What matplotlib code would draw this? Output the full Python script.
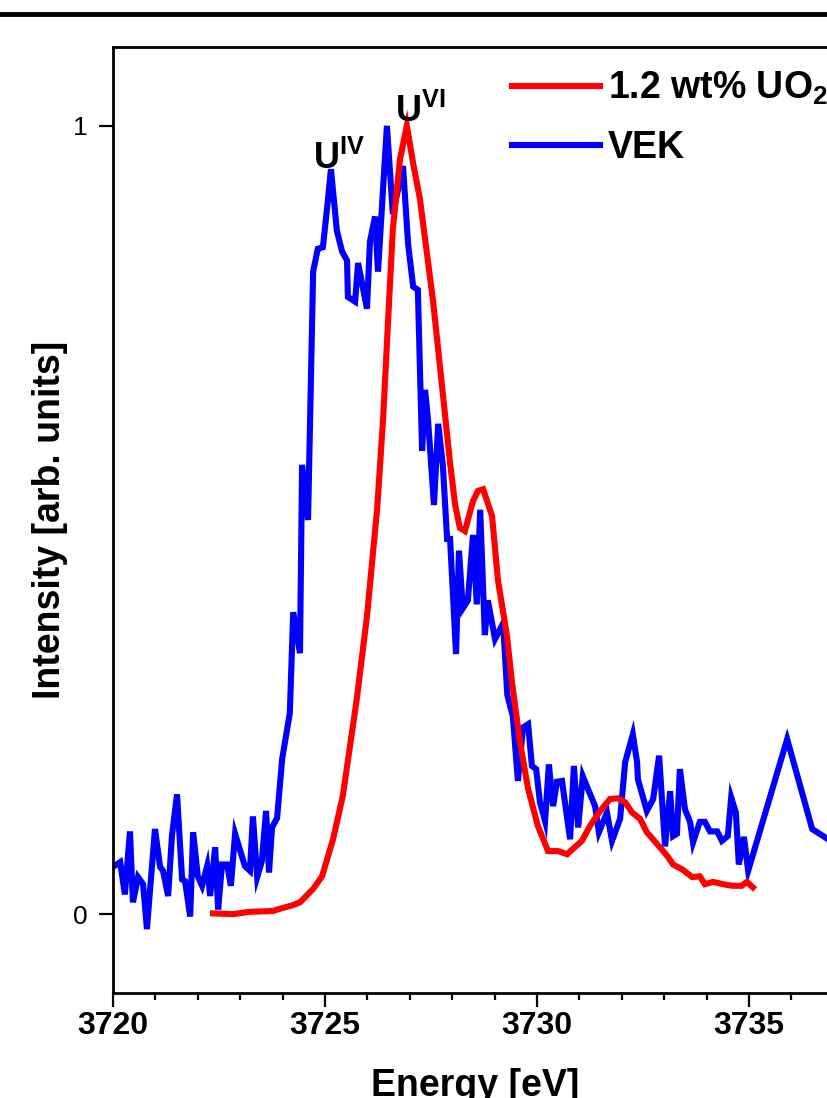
import matplotlib
matplotlib.use("Agg")
import matplotlib.pyplot as plt
from matplotlib import font_manager
from matplotlib.lines import Line2D

# ---------------- data ----------------
vek_energy = [3720.00, 3720.17, 3720.28, 3720.40, 3720.47, 3720.59, 3720.71, 3720.80,
              3720.99, 3721.11, 3721.18, 3721.30, 3721.39, 3721.51, 3721.63, 3721.70,
              3721.82, 3721.89, 3722.00, 3722.10, 3722.22, 3722.29, 3722.41, 3722.48,
              3722.57, 3722.69, 3722.78, 3722.88, 3723.11, 3723.23, 3723.30, 3723.40,
              3723.51, 3723.61, 3723.68, 3723.75, 3723.87, 3723.99, 3724.17, 3724.25,
              3724.41, 3724.46, 3724.60, 3724.72, 3724.83, 3724.95, 3725.05, 3725.14,
              3725.28, 3725.40, 3725.52, 3725.54, 3725.71, 3725.78, 3725.99, 3726.06,
              3726.18, 3726.25, 3726.46, 3726.60, 3726.84, 3726.96, 3727.08, 3727.19,
              3727.29, 3727.36, 3727.43, 3727.57, 3727.67, 3727.78, 3727.88, 3727.95,
              3728.09, 3728.16, 3728.25, 3728.37, 3728.49, 3728.58, 3728.66, 3728.77,
              3728.84, 3729.01, 3729.20, 3729.30, 3729.43, 3729.55, 3729.67, 3729.79,
              3729.88, 3729.98, 3730.07, 3730.19, 3730.28, 3730.38, 3730.47, 3730.59,
              3730.78, 3730.87, 3730.97, 3731.08, 3731.20, 3731.37, 3731.46, 3731.65,
              3731.77, 3731.96, 3732.08, 3732.26, 3732.36, 3732.38, 3732.59, 3732.74,
              3732.88, 3733.02, 3733.14, 3733.21, 3733.30, 3733.37, 3733.49, 3733.61,
              3733.68, 3733.84, 3733.96, 3734.08, 3734.25, 3734.36, 3734.50, 3734.58,
              3734.69, 3734.76, 3734.88, 3734.98, 3735.90, 3736.49, 3737.30]
vek_intensity = [0.060, 0.066, 0.025, 0.105, 0.015, 0.047, 0.038, -0.019,
                 0.108, 0.060, 0.055, 0.023, 0.099, 0.152, 0.044, 0.042,
                 -0.003, 0.104, 0.048, 0.036, 0.061, 0.023, 0.085, 0.006,
                 0.063, 0.063, 0.036, 0.102, 0.061, 0.055, 0.124, 0.047,
                 0.067, 0.131, 0.053, 0.110, 0.122, 0.197, 0.255, 0.383,
                 0.331, 0.570, 0.500, 0.815, 0.844, 0.846, 0.896, 0.945,
                 0.867, 0.841, 0.829, 0.783, 0.777, 0.826, 0.768, 0.853,
                 0.885, 0.815, 1.000, 0.888, 0.949, 0.850, 0.796, 0.792,
                 0.588, 0.665, 0.627, 0.519, 0.622, 0.569, 0.476, 0.476,
                 0.330, 0.461, 0.388, 0.398, 0.481, 0.393, 0.513, 0.354,
                 0.398, 0.349, 0.369, 0.278, 0.251, 0.169, 0.237, 0.241,
                 0.188, 0.184, 0.142, 0.118, 0.190, 0.137, 0.168, 0.169,
                 0.095, 0.188, 0.110, 0.175, 0.159, 0.137, 0.104, 0.129,
                 0.093, 0.121, 0.193, 0.228, 0.193, 0.171, 0.131, 0.146,
                 0.201, 0.086, 0.156, 0.099, 0.102, 0.184, 0.133, 0.117,
                 0.091, 0.117, 0.117, 0.105, 0.105, 0.093, 0.099, 0.148,
                 0.129, 0.063, 0.098, 0.055, 0.222, 0.108, 0.080]

uo2_energy = [3722.36, 3722.83, 3723.23, 3723.77, 3724.01, 3724.22, 3724.41, 3724.72,
              3724.93, 3725.19, 3725.42, 3725.75, 3725.99, 3726.23, 3726.37, 3726.49,
              3726.60, 3726.77, 3726.93, 3727.08, 3727.24, 3727.55, 3727.76, 3727.95,
              3728.07, 3728.18, 3728.30, 3728.49, 3728.61, 3728.73, 3728.94, 3729.08,
              3729.29, 3729.41, 3729.60, 3729.79, 3730.02, 3730.26, 3730.50, 3730.71,
              3730.83, 3731.06, 3731.25, 3731.49, 3731.72, 3731.91, 3732.08, 3732.24,
              3732.43, 3732.59, 3732.83, 3733.07, 3733.21, 3733.42, 3733.66, 3733.84,
              3733.96, 3734.15, 3734.39, 3734.60, 3734.83, 3734.95, 3735.09]
uo2_intensity = [0.001, 0.000, 0.003, 0.004, 0.008, 0.011, 0.015, 0.032,
                 0.048, 0.095, 0.150, 0.273, 0.378, 0.514, 0.628, 0.755,
                 0.869, 0.958, 1.000, 0.952, 0.907, 0.777, 0.670, 0.572,
                 0.519, 0.490, 0.486, 0.524, 0.537, 0.539, 0.505, 0.423,
                 0.354, 0.294, 0.218, 0.159, 0.112, 0.080, 0.080, 0.076,
                 0.082, 0.093, 0.112, 0.131, 0.146, 0.147, 0.142, 0.129,
                 0.121, 0.104, 0.089, 0.074, 0.063, 0.057, 0.047, 0.048,
                 0.038, 0.041, 0.038, 0.036, 0.036, 0.041, 0.034]

series_labels = ["1.2 wt% UO$_2$", "VEK"]
x_ticks = [3720, 3725, 3730, 3735]
y_ticks = [0, 1]
peak_labels = [("U", "IV", 3725.32, 0.935), ("U", "VI", 3727.26, 0.995)]

# ---------------- fonts ----------------
def has_font(name):
    try:
        font_manager.findfont(name, fallback_to_default=False)
        return True
    except Exception:
        return False

main_font = "Liberation Sans" if has_font("Liberation Sans") else "DejaVu Sans"
narrow_font = "Liberation Sans Narrow" if has_font("Liberation Sans Narrow") else main_font

plt.rcParams["font.family"] = [main_font, "DejaVu Sans"]
plt.rcParams["mathtext.fontset"] = "custom"
plt.rcParams["mathtext.rm"] = main_font + ":bold"
plt.rcParams["mathtext.bf"] = main_font + ":bold"
plt.rcParams["mathtext.it"] = main_font + ":bold"
plt.rcParams["mathtext.default"] = "rm"

W, H = 827, 1098
fig = plt.figure(figsize=(W / 100, H / 100), dpi=100)

# axes: left at 113 px, bottom 993 px, top 47 px, 42.4 px per eV
x_min, x_max = 3720, 3737.2
px_per_ev = 42.4
ax_left = 113 / W
ax_bottom = (H - 993) / H
ax_height = (993 - 47) / H
ax_width = (x_max - x_min) * px_per_ev / W
ax = fig.add_axes([ax_left, ax_bottom, ax_width, ax_height])

LW = 4.4
ax.plot(uo2_energy, uo2_intensity, color="#ff0000", lw=LW, label=series_labels[0],
        zorder=3, solid_joinstyle="miter")
ax.plot(vek_energy, vek_intensity, color="#0000ff", lw=LW, label=series_labels[1],
        zorder=2, solid_joinstyle="miter")

ax.set_xlim(x_min, x_max)
ax.set_ylim(-0.1, 1.1)
ax.set_xticks(x_ticks)
ax.set_xticks(range(3720, 3738), minor=True)
ax.set_yticks(y_ticks)
ax.set_yticklabels([str(v) for v in y_ticks])

for s in ax.spines.values():
    s.set_linewidth(2.0)

ax.tick_params(axis="x", which="major", direction="out", length=10, width=1.6, pad=3)
ax.tick_params(axis="x", which="minor", direction="out", length=5, width=1.6)
ax.tick_params(axis="y", which="major", direction="out", length=10, width=1.6, pad=8,
               labelsize=19)
ax.tick_params(axis="y", which="minor", left=False)

for lab in ax.get_xticklabels():
    lab.set_fontfamily([narrow_font, "DejaVu Sans"])
    lab.set_fontweight("bold")
    lab.set_fontsize(23)

ax.set_xlabel("Energy [eV]", fontsize=27, fontweight="bold")
ax.xaxis.set_label_coords((475 - 113) / (ax_width * W), -(1068 - 993) / (ax_height * H))
ax.xaxis.label.set_va("top")
ax.set_ylabel("Intensity [arb. units]", fontsize=27, fontweight="bold")
ax.yaxis.set_label_coords(-(113 - 68) / (ax_width * W), 0.5)

# peak annotations
for base, sup, ex, ey in peak_labels:
    ax.text(ex, ey, base + r"$^{\mathregular{" + sup + "}}$", fontsize=26,
            fontweight="bold", ha="center", va="bottom", zorder=5)

# legend
leg = ax.legend(loc="upper left",
                bbox_to_anchor=((512 - 113) / (ax_width * W), 1 - (70 - 47) / (ax_height * H)),
                frameon=False, handlelength=2.35, handletextpad=0.2, labelspacing=0.6,
                borderaxespad=0, borderpad=0,
                prop={"weight": "bold", "size": 27})
for line in leg.get_lines():
    line.set_linewidth(LW)

# top black rule
fig.add_artist(Line2D([0, 1], [1 - 14 / H, 1 - 14 / H], transform=fig.transFigure,
                      color="black", lw=3.5))

fig.savefig("out.png", dpi=100)
